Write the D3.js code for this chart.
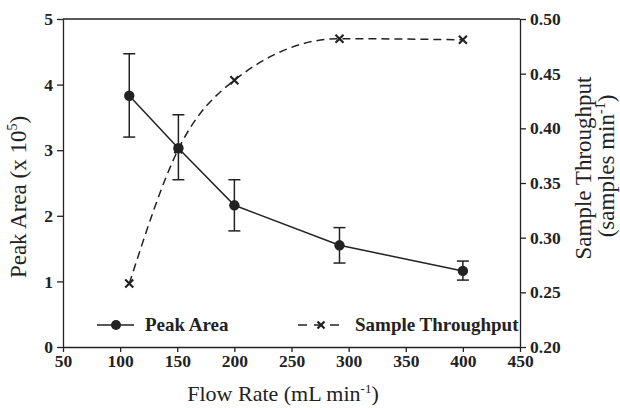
<!DOCTYPE html>
<html><head><meta charset="utf-8">
<script src="https://cdnjs.cloudflare.com/ajax/libs/d3/7.8.5/d3.min.js"></script>
<style>body{margin:0;background:#fff}svg{display:block}text{font-family:"Liberation Serif","Times New Roman",serif;fill:#222}</style>
</head><body><svg id="c" width="620" height="408"></svg>
<script>
const flowRates = [108, 151, 200, 292, 400];
const peakArea = [3.83, 3.03, 2.16, 1.55, 1.16];
const peakErrLow = [3.20, 2.55, 1.77, 1.28, 1.02];
const peakErrHigh = [4.47, 3.54, 2.55, 1.82, 1.31];
const throughput = [0.258, 0.381, 0.444, 0.482, 0.481];
const xTicks = [50, 100, 150, 200, 250, 300, 350, 400, 450];
const yLeftTicks = [0, 1, 2, 3, 4, 5];
const yRightTicks = [0.20, 0.25, 0.30, 0.35, 0.40, 0.45, 0.50];

const svg = d3.select("#c");
const m = {l: 63, r: 520, t: 19, b: 347};
const x = d3.scaleLinear().domain([50, 450]).range([m.l, m.r]);
const yL = d3.scaleLinear().domain([0, 5]).range([m.b, m.t]);
const yR = d3.scaleLinear().domain([0.20, 0.50]).range([m.b, m.t]);
const ink = "#222";

svg.append("line").attr("x1", m.l).attr("x2", m.r).attr("y1", m.t).attr("y2", m.t).attr("stroke", ink).attr("stroke-width", 1.3);

function styleAxis(g) {
  g.select(".domain").attr("stroke", ink).attr("stroke-width", 1.3);
  g.selectAll(".tick line").attr("stroke", ink).attr("stroke-width", 1.3);
  g.selectAll(".tick text").attr("font-family", '"Liberation Serif",serif').attr("font-weight", "bold").attr("font-size", 17.5).attr("fill", ink);
}
svg.append("g").attr("transform", `translate(0,${m.b})`)
  .call(d3.axisBottom(x).tickValues(xTicks).tickSize(5).tickSizeOuter(0).tickPadding(3).tickFormat(d3.format("d")))
  .call(styleAxis);
svg.append("g").attr("transform", `translate(${m.l},0)`)
  .call(d3.axisLeft(yL).tickValues(yLeftTicks).tickSize(6).tickSizeOuter(0).tickPadding(4).tickFormat(d3.format("d")))
  .call(styleAxis);
svg.append("g").attr("transform", `translate(${m.r},0)`)
  .call(d3.axisRight(yR).tickValues(yRightTicks).tickSize(6).tickSizeOuter(0).tickPadding(4).tickFormat(d3.format(".2f")))
  .call(styleAxis);

// throughput dashed line
const tData = flowRates.map((f, i) => [f, throughput[i]]);
svg.append("path").datum(tData)
  .attr("d", d3.line().x(d => x(d[0])).y(d => yR(d[1])).curve(d3.curveMonotoneX))
  .attr("fill", "none").attr("stroke", ink).attr("stroke-width", 1.5).attr("stroke-dasharray", "8,5");
function cross(g, cx, cy, s) {
  g.append("path").attr("d", `M${cx - s},${cy - s}L${cx + s},${cy + s}M${cx - s},${cy + s}L${cx + s},${cy - s}`)
    .attr("stroke", ink).attr("stroke-width", 2.2).attr("fill", "none");
}
tData.forEach(d => cross(svg, x(d[0]), yR(d[1]), 4));

// peak area
const pData = flowRates.map((f, i) => ({f, v: peakArea[i], lo: peakErrLow[i], hi: peakErrHigh[i]}));
svg.append("path").datum(pData)
  .attr("d", d3.line().x(d => x(d.f)).y(d => yL(d.v)))
  .attr("fill", "none").attr("stroke", ink).attr("stroke-width", 1.5);
const eb = svg.append("g").attr("stroke", ink).attr("stroke-width", 1.5);
pData.forEach(d => {
  const cx = x(d.f);
  eb.append("line").attr("x1", cx).attr("x2", cx).attr("y1", yL(d.lo)).attr("y2", yL(d.hi));
  eb.append("line").attr("x1", cx - 6).attr("x2", cx + 6).attr("y1", yL(d.lo)).attr("y2", yL(d.lo));
  eb.append("line").attr("x1", cx - 6).attr("x2", cx + 6).attr("y1", yL(d.hi)).attr("y2", yL(d.hi));
});
svg.append("g").selectAll("circle").data(pData).join("circle")
  .attr("cx", d => x(d.f)).attr("cy", d => yL(d.v)).attr("r", 5.2).attr("fill", ink);

// legend
const ly = 325;
svg.append("line").attr("x1", 97).attr("x2", 134).attr("y1", ly).attr("y2", ly).attr("stroke", ink).attr("stroke-width", 1.5);
svg.append("circle").attr("cx", 116).attr("cy", ly).attr("r", 5).attr("fill", ink);
svg.append("text").attr("x", 145).attr("y", ly + 6).attr("font-size", 19).attr("font-weight", "bold").text("Peak Area");
svg.append("line").attr("x1", 298).attr("x2", 343).attr("y1", ly).attr("y2", ly).attr("stroke", ink).attr("stroke-width", 1.5).attr("stroke-dasharray", "9,7");
cross(svg, 321, ly, 3.5);
svg.append("text").attr("x", 355).attr("y", ly + 6).attr("font-size", 19).attr("font-weight", "bold").text("Sample Throughput");

// axis titles
const xt = svg.append("text").attr("x", 283).attr("y", 401).attr("text-anchor", "middle").attr("font-size", 22);
xt.append("tspan").text("Flow Rate (mL min");
xt.append("tspan").attr("dy", -8).attr("font-size", 13).text("-1");
xt.append("tspan").attr("dy", 8).text(")");

const lt = svg.append("text").attr("transform", `translate(26,197) rotate(-90)`).attr("text-anchor", "middle").attr("font-size", 23);
lt.append("tspan").text("Peak Area (x 10");
lt.append("tspan").attr("dy", -9).attr("font-size", 14).text("5");
lt.append("tspan").attr("dy", 9).text(")");

svg.append("text").attr("transform", `translate(591,168) rotate(-90)`).attr("text-anchor", "middle").attr("font-size", 23).text("Sample Throughput");
const rt2 = svg.append("text").attr("transform", `translate(614,166) rotate(-90)`).attr("text-anchor", "middle").attr("font-size", 23);
rt2.append("tspan").text("(samples min");
rt2.append("tspan").attr("dy", -9).attr("font-size", 14).text("-1");
rt2.append("tspan").attr("dy", 9).text(")");
</script></body></html>
